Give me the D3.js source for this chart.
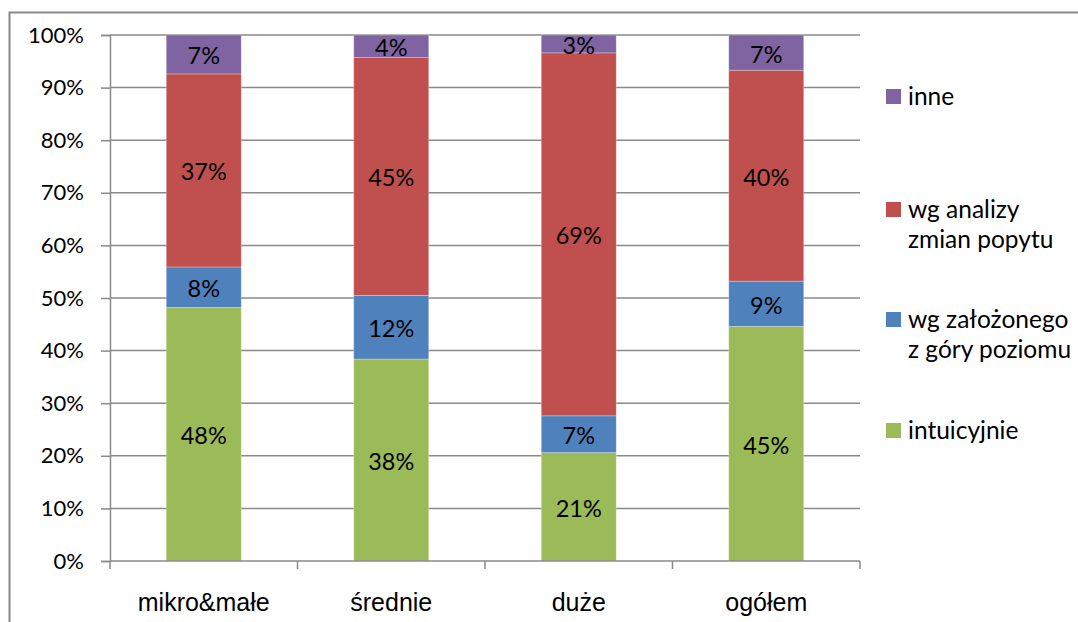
<!DOCTYPE html>
<html>
<head>
<meta charset="utf-8">
<script src="https://cdn.jsdelivr.net/npm/d3@7"></script>
<style>
  html, body { margin: 0; padding: 0; background: #fff; }
  svg { display: block; }
</style>
</head>
<body>
<svg id="chart" width="1078" height="622"></svg>
<script>
// Categories (company size groups)
const categories = ["mikro&małe", "średnie", "duże", "ogółem"];

// Share of each approach per group, in percent (stacked bottom to top)
const intuicyjnie = [48.2, 38.4, 20.6, 44.6];
const wgZalozonego = [7.7, 12.1, 7.0, 8.6];
const wgAnalizy = [36.7, 45.2, 69.0, 40.1];
const inne = [7.4, 4.3, 3.4, 6.7];

// Y-axis tick values (percent)
const yTicks = [0, 10, 20, 30, 40, 50, 60, 70, 80, 90, 100];

// Series in stacking order with their legend labels (legend lines split by "\n")
const seriesKeys = ["intuicyjnie", "wgZalozonego", "wgAnalizy", "inne"];
const seriesLabels = {
  intuicyjnie: "intuicyjnie",
  wgZalozonego: "wg założonego\nz góry poziomu",
  wgAnalizy: "wg analizy\nzmian popytu",
  inne: "inne"
};
const seriesValues = { intuicyjnie, wgZalozonego, wgAnalizy, inne };
const colors = {
  intuicyjnie: "#9BBB59",
  wgZalozonego: "#4F81BD",
  wgAnalizy: "#C0504D",
  inne: "#8064A2"
};

const rows = categories.map((c, i) => {
  const r = { category: c };
  seriesKeys.forEach(k => r[k] = seriesValues[k][i]);
  return r;
});

const svg = d3.select("#chart");
const gridColor = "#8a8a8a";
const labelFont = "Lato, 'Liberation Sans', sans-serif";
const catFont = "'Liberation Sans', Arial, sans-serif";

// Chart frame (top and left edges visible)
svg.append("path")
  .attr("d", "M9.5,623 L9.5,12.5 L1080,12.5")
  .attr("fill", "none")
  .attr("stroke", gridColor)
  .attr("stroke-width", 2);

const plot = { left: 110, right: 860, top: 35, bottom: 561 };

const x = d3.scaleBand()
  .domain(categories)
  .range([plot.left, plot.right])
  .paddingInner(0.6)
  .paddingOuter(0.3);

const y = d3.scaleLinear()
  .domain([0, 100])
  .range([plot.bottom, plot.top]);

// Horizontal gridlines
svg.append("g")
  .selectAll("line")
  .data(yTicks.filter(t => t > 0))
  .join("line")
  .attr("x1", plot.left)
  .attr("x2", plot.right)
  .attr("y1", d => y(d))
  .attr("y2", d => y(d))
  .attr("stroke", gridColor)
  .attr("stroke-width", 1.5);

// Y axis
const yAxis = svg.append("g")
  .attr("transform", `translate(${plot.left},0)`)
  .call(d3.axisLeft(y).tickValues(yTicks).tickFormat(d => d + "%").tickSize(9).tickPadding(17));
yAxis.select(".domain").attr("stroke", gridColor).attr("stroke-width", 1.5);
yAxis.selectAll(".tick line").attr("stroke", gridColor).attr("stroke-width", 1.5);
yAxis.selectAll(".tick text")
  .attr("fill", "#000")
  .style("font-family", labelFont)
  .style("font-size", "22px");

// Stacked bars
const stack = d3.stack().keys(seriesKeys);
const stacked = stack(rows);

const layers = svg.append("g")
  .selectAll("g")
  .data(stacked)
  .join("g")
  .attr("fill", d => colors[d.key]);

layers.selectAll("rect")
  .data(d => d.map(p => ({ p, key: d.key })))
  .join("rect")
  .attr("x", d => x(d.p.data.category))
  .attr("width", x.bandwidth())
  .attr("y", d => y(d.p[1]))
  .attr("height", d => y(d.p[0]) - y(d.p[1]))
  .attr("stroke", "rgba(255,255,255,0.35)")
  .attr("stroke-width", 0.8);

// Value labels centred in each segment
layers.selectAll("text")
  .data(d => d.map(p => ({ p, key: d.key })))
  .join("text")
  .attr("x", d => x(d.p.data.category) + x.bandwidth() / 2)
  .attr("y", d => (y(d.p[0]) + y(d.p[1])) / 2 + 1)
  .attr("text-anchor", "middle")
  .attr("dominant-baseline", "central")
  .attr("fill", "#000")
  .style("font-family", labelFont)
  .style("font-size", "23.5px")
  .text(d => Math.round(d.p.data[d.key]) + "%");

// Category axis line and tick marks at band boundaries
const xAxisLine = svg.append("g");
xAxisLine.append("line")
  .attr("x1", plot.left).attr("x2", plot.right)
  .attr("y1", plot.bottom).attr("y2", plot.bottom)
  .attr("stroke", gridColor).attr("stroke-width", 1.5);
xAxisLine.selectAll("line.tick")
  .data(d3.range(categories.length + 1))
  .join("line")
  .attr("class", "tick")
  .attr("x1", i => plot.left + i * (plot.right - plot.left) / categories.length)
  .attr("x2", i => plot.left + i * (plot.right - plot.left) / categories.length)
  .attr("y1", plot.bottom)
  .attr("y2", plot.bottom + 8)
  .attr("stroke", gridColor).attr("stroke-width", 1.5);

svg.append("g")
  .selectAll("text")
  .data(categories)
  .join("text")
  .attr("x", d => x(d) + x.bandwidth() / 2)
  .attr("y", 611)
  .attr("text-anchor", "middle")
  .attr("fill", "#000")
  .style("font-family", catFont)
  .style("font-size", "25px")
  .text(d => d);

// Legend
const legendOrder = ["inne", "wgAnalizy", "wgZalozonego", "intuicyjnie"];
const legendTop = { inne: 89, wgAnalizy: 202, wgZalozonego: 312, intuicyjnie: 423 };
const legend = svg.append("g");
legendOrder.forEach(k => {
  legend.append("rect")
    .attr("x", 886).attr("y", legendTop[k])
    .attr("width", 15).attr("height", 15)
    .attr("fill", colors[k]);
  const lines = seriesLabels[k].split("\n");
  const t = legend.append("text")
    .attr("x", 908)
    .attr("y", legendTop[k] + 16)
    .attr("fill", "#000")
    .style("font-family", labelFont)
    .style("font-size", "24.5px");
  lines.forEach((ln, i) => {
    t.append("tspan").attr("x", 908).attr("dy", i === 0 ? 0 : 30).text(ln);
  });
});
</script>
</body>
</html>
